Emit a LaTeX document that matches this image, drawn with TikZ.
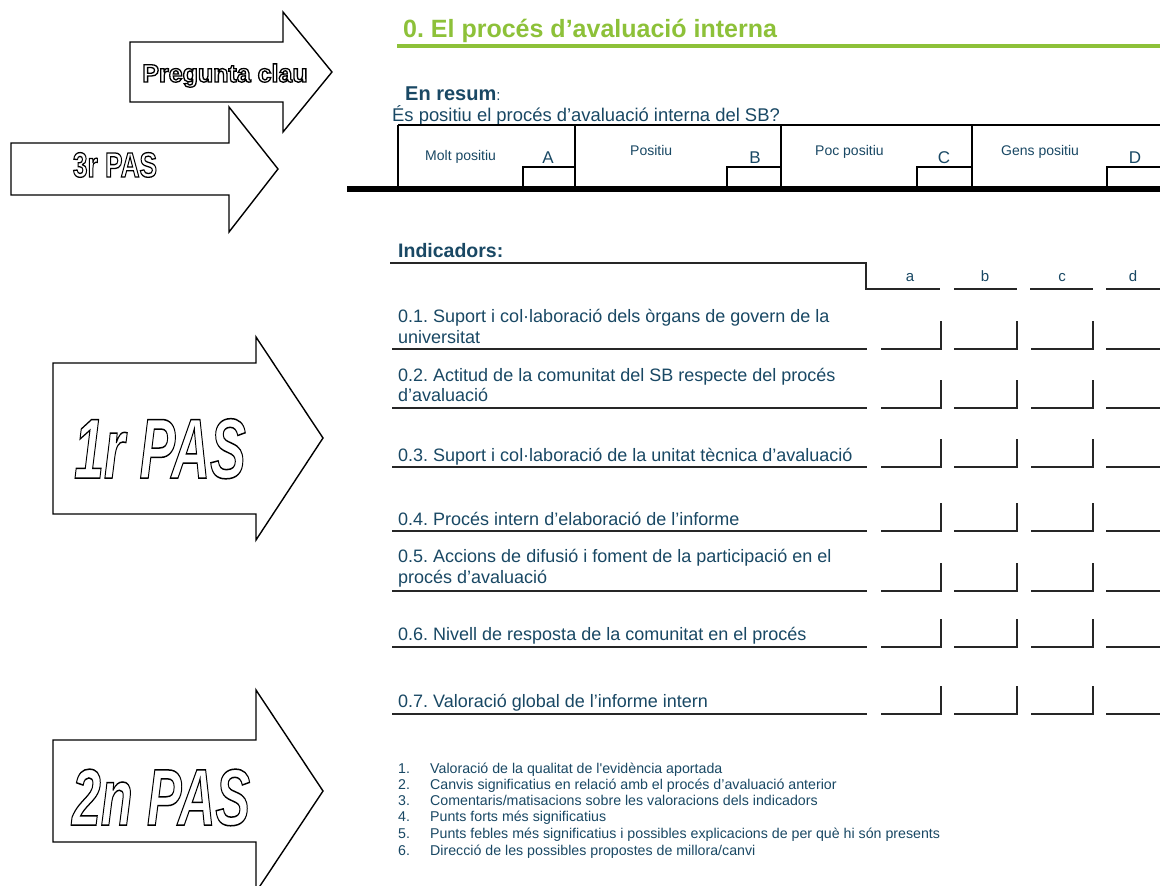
\documentclass[tikz,border=0pt]{standalone}
\usepackage{fontspec}
\setmainfont{Liberation Sans}
\frenchspacing
\definecolor{ink}{RGB}{25,72,100}
\definecolor{lime}{RGB}{141,193,57}
\newcommand{\hollow}[2]{\special{pdf:literal direct 1 Tr #1 w 0 G}#2\special{pdf:literal direct 0 Tr}}
\tikzset{
  bigarrow/.style={draw=black, line width=1.4pt, fill=white, line join=miter},
  outl/.style={inner sep=0pt, anchor=base},
  lbl/.style={inner sep=0pt, anchor=base west, text=ink},
  clbl/.style={inner sep=0pt, anchor=base, text=ink},
  rulel/.style={draw=black!85, line width=1.5pt},
  boxl/.style={draw=black!85, line width=1.6pt}
}
\newcommand{\rowfont}{\fontsize{18}{20}\selectfont}
\newcommand{\notefont}{\fontsize{14.2}{15}\selectfont}
\begin{document}
\begin{tikzpicture}[x=1pt,y=-1pt]
\useasboundingbox (0,0) rectangle (1160,886);
\fill[white] (0,0) rectangle (1160,886);
% ---------- arrows ----------
\draw[bigarrow] (11,143) -- (229,143) -- (229,107) -- (278,169) -- (229,232) -- (229,195) -- (11,195) -- cycle;
\draw[bigarrow] (130,42) -- (283,42) -- (283,12) -- (332,72) -- (283,132) -- (283,102) -- (130,102) -- cycle;
\draw[bigarrow] (53,363) -- (256,363) -- (256,337) -- (323,438) -- (256,540) -- (256,514) -- (53,514) -- cycle;
\draw[bigarrow] (53,740) -- (256,740) -- (256,690) -- (323,791) -- (256,892) -- (256,842) -- (53,842) -- cycle;
\node[outl] (pq) at (225,82) {\fontsize{25}{25}\selectfont\bfseries\hollow{1.3}{Pregunta clau}};
\node[outl, xscale=0.75] (p3) at (115,177) {\fontsize{35}{35}\selectfont\bfseries\hollow{1.3}{3r PAS}};
\node[outl, xscale=0.63] (p1) at (160,478) {\fontsize{85}{85}\selectfont\bfseries\itshape\hollow{1.5}{1r PAS}};
\node[outl, xscale=0.65] (p2) at (161,825) {\fontsize{80}{80}\selectfont\bfseries\itshape\hollow{1.5}{2n PAS}};
% ---------- title ----------
\node[lbl, text=lime] (title) at (403,37) {\fontsize{25}{25}\selectfont\bfseries 0. El procés d’avaluació interna};
\draw[lime, line width=4pt] (397,46) -- (1160,46);
\node[lbl] (resum) at (405,100) {\fontsize{20}{20}\selectfont\bfseries En resum\mdseries\fontsize{15}{15}\selectfont:};
\node[lbl] (quest) at (392,121) {\fontsize{18.4}{18}\selectfont És positiu el procés d’avaluació interna del SB?};
% ---------- summary table ----------
\draw[line width=1.3pt] (398,125) -- (1160,125);
\foreach \xx in {398,575,781,972} {\draw[line width=1.3pt] (\xx,125) -- (\xx,189);}
\draw[line width=1.3pt] (523,189) -- (523,167) -- (575,167);
\draw[line width=1.3pt] (727,189) -- (727,167) -- (781,167);
\draw[line width=1.3pt] (917,189) -- (917,167) -- (972,167);
\draw[line width=1.3pt] (1107,189) -- (1107,167) -- (1160,167);
\draw[line width=6pt] (347,189) -- (1160,189);
\node[lbl] (mp) at (425,160) {\fontsize{14}{14}\selectfont Molt positiu};
\node[lbl] (po) at (630,155) {\fontsize{14}{14}\selectfont Positiu};
\node[lbl] (pp) at (815,155) {\fontsize{14}{14}\selectfont Poc positiu};
\node[lbl] (gp) at (1001,155) {\fontsize{14}{14}\selectfont Gens positiu};
\node[clbl] (la) at (548,163) {\fontsize{17}{17}\selectfont A};
\node[clbl] (lb) at (755,163) {\fontsize{17}{17}\selectfont B};
\node[clbl] (lc) at (944,163) {\fontsize{17}{17}\selectfont C};
\node[clbl] (ld) at (1135,163) {\fontsize{17}{17}\selectfont D};
% ---------- indicators header ----------
\node[lbl] (ind) at (398,257) {\fontsize{19.5}{20}\selectfont\bfseries Indicadors:};
\draw[rulel] (390,263) -- (866,263) -- (866,289) -- (940,289);
\draw[rulel] (954,289) -- (1017,289);
\draw[rulel] (1030,289) -- (1093,289);
\draw[rulel] (1106,289) -- (1160,289);
\node[clbl] (ha) at (910,281) {\fontsize{15}{15}\selectfont a};
\node[clbl] (hb) at (985,281) {\fontsize{15}{15}\selectfont b};
\node[clbl] (hc) at (1062,281) {\fontsize{15}{15}\selectfont c};
\node[clbl] (hd) at (1133,281) {\fontsize{15}{15}\selectfont d};
% ---------- rows ----------
\foreach \yb in {349,408,467,531,591,647,714} {
  \draw[rulel] (392,\yb) -- (867,\yb);
  \draw[boxl] (881,\yb) -- (941,\yb) -- (941,\yb-28);
  \draw[boxl] (954,\yb) -- (1017,\yb) -- (1017,\yb-28);
  \draw[boxl] (1031,\yb) -- (1093,\yb) -- (1093,\yb-28);
  \draw[boxl] (1106,\yb) -- (1165,\yb);
}
\node[lbl] (r1a) at (398,322) {\rowfont 0.1. Suport i col·laboració dels òrgans de govern de la};
\node[lbl] (r1b) at (398,343) {\rowfont universitat};
\node[lbl] (r2a) at (398,381) {\rowfont 0.2. Actitud de la comunitat del SB respecte del procés};
\node[lbl] (r2b) at (398,401) {\rowfont d’avaluació};
\node[lbl] (r3) at (398,461) {\rowfont 0.3. Suport i col·laboració de la unitat tècnica d’avaluació};
\node[lbl] (r4) at (398,525) {\rowfont 0.4. Procés intern d’elaboració de l’informe};
\node[lbl] (r5a) at (398,562) {\rowfont 0.5. Accions de difusió i foment de la participació en el};
\node[lbl] (r5b) at (398,583) {\rowfont procés d’avaluació};
\node[lbl] (r6) at (398,640) {\rowfont 0.6. Nivell de resposta de la comunitat en el procés};
\node[lbl] (r7) at (398,707) {\rowfont 0.7. Valoració global de l’informe intern};
% ---------- notes ----------
\foreach \n/\yy/\tt in {1/773/{Valoració de la qualitat de l\textquotesingle evidència aportada},
  2/789/{Canvis significatius en relació amb el procés d’avaluació anterior},
  3/805/{Comentaris/matisacions sobre les valoracions dels indicadors},
  4/821/{Punts forts més significatius},
  5/838/{Punts febles més significatius i possibles explicacions de per què hi són presents},
  6/855/{Direcció de les possibles propostes de millora/canvi}} {
  \node[lbl] (n\n) at (398,\yy) {\notefont \n.};
  \node[lbl] (t\n) at (430,\yy) {\notefont \tt};
}
\end{tikzpicture}
\end{document}
